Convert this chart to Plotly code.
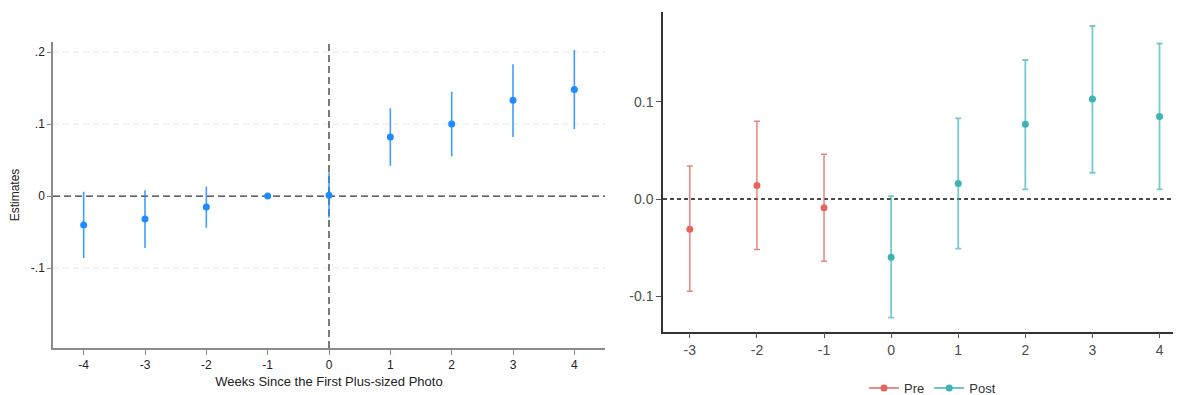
import plotly.graph_objects as go

# ---- Left panel data ----
weeks_left = [-4, -3, -2, -1, 0, 1, 2, 3, 4]
est_left = [-0.040, -0.032, -0.015, 0.0, 0.001, 0.082, 0.100, 0.133, 0.148]
lo_left = [-0.086, -0.072, -0.044, 0.0, -0.030, 0.042, 0.055, 0.082, 0.093]
hi_left = [0.006, 0.008, 0.013, 0.0, 0.033, 0.122, 0.145, 0.183, 0.203]
left_ticks = [-0.1, 0.0, 0.1, 0.2]
left_ticktext = ["-.1", "0", ".1", ".2"]
left_grid = [-0.1, 0.1, 0.2]

# ---- Right panel data ----
weeks_pre = [-3, -2, -1]
est_pre = [-0.031, 0.014, -0.009]
lo_pre = [-0.095, -0.052, -0.064]
hi_pre = [0.034, 0.080, 0.046]
weeks_post = [0, 1, 2, 3, 4]
est_post = [-0.060, 0.016, 0.077, 0.103, 0.085]
lo_post = [-0.122, -0.051, 0.010, 0.027, 0.010]
hi_post = [0.003, 0.083, 0.143, 0.178, 0.160]
right_ticks = [-0.1, 0.0, 0.1]
right_ticktext = ["-0.1", "0.0", "0.1"]

BLUE = "#1E8CFF"
RED = "#E8645F"
TEAL = "#3DB3B6"

# page body has an 8px margin
W, H = 1173, 395
OFF = 8


def px_x(x):
    return (x - OFF) / W


def px_y(y):
    return (H - (y - OFF)) / H


fig = go.Figure()

fig.add_trace(go.Scatter(
    x=weeks_left, y=est_left, mode="markers",
    marker=dict(color=BLUE, size=7),
    error_y=dict(type="data", symmetric=False,
                 array=[h - e for h, e in zip(hi_left, est_left)],
                 arrayminus=[e - l for e, l in zip(est_left, lo_left)],
                 color="rgba(30,140,255,0.85)", thickness=1.6, width=0),
    xaxis="x", yaxis="y", showlegend=False))

fig.add_trace(go.Scatter(
    x=weeks_pre, y=est_pre, mode="markers",
    marker=dict(color=RED, size=7),
    error_y=dict(type="data", symmetric=False,
                 array=[h - e for h, e in zip(hi_pre, est_pre)],
                 arrayminus=[e - l for e, l in zip(est_pre, lo_pre)],
                 color="rgba(232,100,95,0.8)", thickness=1.5, width=3),
    xaxis="x2", yaxis="y2", showlegend=False))

fig.add_trace(go.Scatter(
    x=weeks_post, y=est_post, mode="markers",
    marker=dict(color=TEAL, size=7),
    error_y=dict(type="data", symmetric=False,
                 array=[h - e for h, e in zip(hi_post, est_post)],
                 arrayminus=[e - l for e, l in zip(est_post, lo_post)],
                 color="rgba(61,179,182,0.7)", thickness=1.8, width=3),
    xaxis="x2", yaxis="y2", showlegend=False))

# legend entries
fig.add_trace(go.Scatter(x=[None], y=[None], mode="lines+markers", name="Pre",
                         line=dict(color=RED, width=1.5), marker=dict(color=RED, size=7),
                         xaxis="x2", yaxis="y2"))
fig.add_trace(go.Scatter(x=[None], y=[None], mode="lines+markers", name="Post",
                         line=dict(color=TEAL, width=1.5), marker=dict(color=TEAL, size=7),
                         xaxis="x2", yaxis="y2"))

font = "Liberation Sans, Arial, sans-serif"

shapes = [
    dict(type="line", xref="x", yref="y", x0=-4.5, x1=4.5, y0=g, y1=g,
         line=dict(color="#e4e4e4", width=1, dash="6px,4px"), layer="below")
    for g in left_grid
]
shapes += [
    dict(type="line", xref="x", yref="y", x0=-4.5, x1=4.5, y0=0, y1=0,
         line=dict(color="#333", width=1.3, dash="7px,4px"), layer="below"),
    dict(type="line", xref="x", yref="y", x0=0, x1=0, y0=-0.211, y1=0.214,
         line=dict(color="#333", width=1.3, dash="7px,4px"), layer="below"),
    dict(type="line", xref="x2", yref="y2", x0=-3.4, x1=4.32, y0=0, y1=0,
         line=dict(color="#111", width=1.3, dash="4px,3px"), layer="below"),
]

fig.update_layout(
    width=W, height=H,
    margin=dict(l=0, r=0, t=0, b=0),
    paper_bgcolor="white", plot_bgcolor="white",
    font=dict(family=font, color="#222"),
    showlegend=True,
    legend=dict(orientation="h", x=px_x(864), xanchor="left", y=0.0, yanchor="bottom",
                font=dict(size=13, color="#333"), tracegroupgap=0),
    xaxis=dict(domain=[px_x(53), px_x(605)], range=[-4.5, 4.5], automargin=False,
               tickvals=weeks_left, ticktext=[str(w) for w in weeks_left],
               showgrid=False, zeroline=False, showline=True, linecolor="#8a8a8a", linewidth=1.5,
               ticks="outside", ticklen=5, tickcolor="#8a8a8a",
               tickfont=dict(size=12, color="#222"),
               title=dict(text="Weeks Since the First Plus-sized Photo", font=dict(size=13, color="#222"), standoff=6),
               anchor="y"),
    yaxis=dict(domain=[px_y(348), px_y(42)], range=[-0.211, 0.214], automargin=False,
               tickvals=left_ticks, ticktext=left_ticktext,
               showgrid=False, zeroline=False, showline=True, linecolor="#8a8a8a", linewidth=1.5,
               ticks="outside", ticklen=4, tickcolor="#8a8a8a",
               tickfont=dict(size=12, color="#222"),
               title=dict(text="Estimates", font=dict(size=12, color="#222"), standoff=12),
               anchor="x"),
    xaxis2=dict(domain=[px_x(663), 1.0], range=[-3.4, 4.32], automargin=False,
                tickvals=weeks_pre + weeks_post, ticktext=[str(w) for w in weeks_pre + weeks_post],
                showgrid=False, zeroline=False, showline=True, linecolor="#333", linewidth=1.5,
                ticks="outside", ticklen=5, tickcolor="#555",
                tickfont=dict(size=14, color="#4d4d4d"), anchor="y2"),
    yaxis2=dict(domain=[px_y(331.7), px_y(11.7)], range=[-0.1365, 0.1927], automargin=False,
                tickvals=right_ticks, ticktext=right_ticktext,
                showgrid=False, zeroline=False, showline=True, linecolor="#333", linewidth=1.5,
                ticks="outside", ticklen=5, tickcolor="#555",
                tickfont=dict(size=14, color="#4d4d4d"), anchor="x2"),
    shapes=shapes,
)

fig.write_html("out.html")
